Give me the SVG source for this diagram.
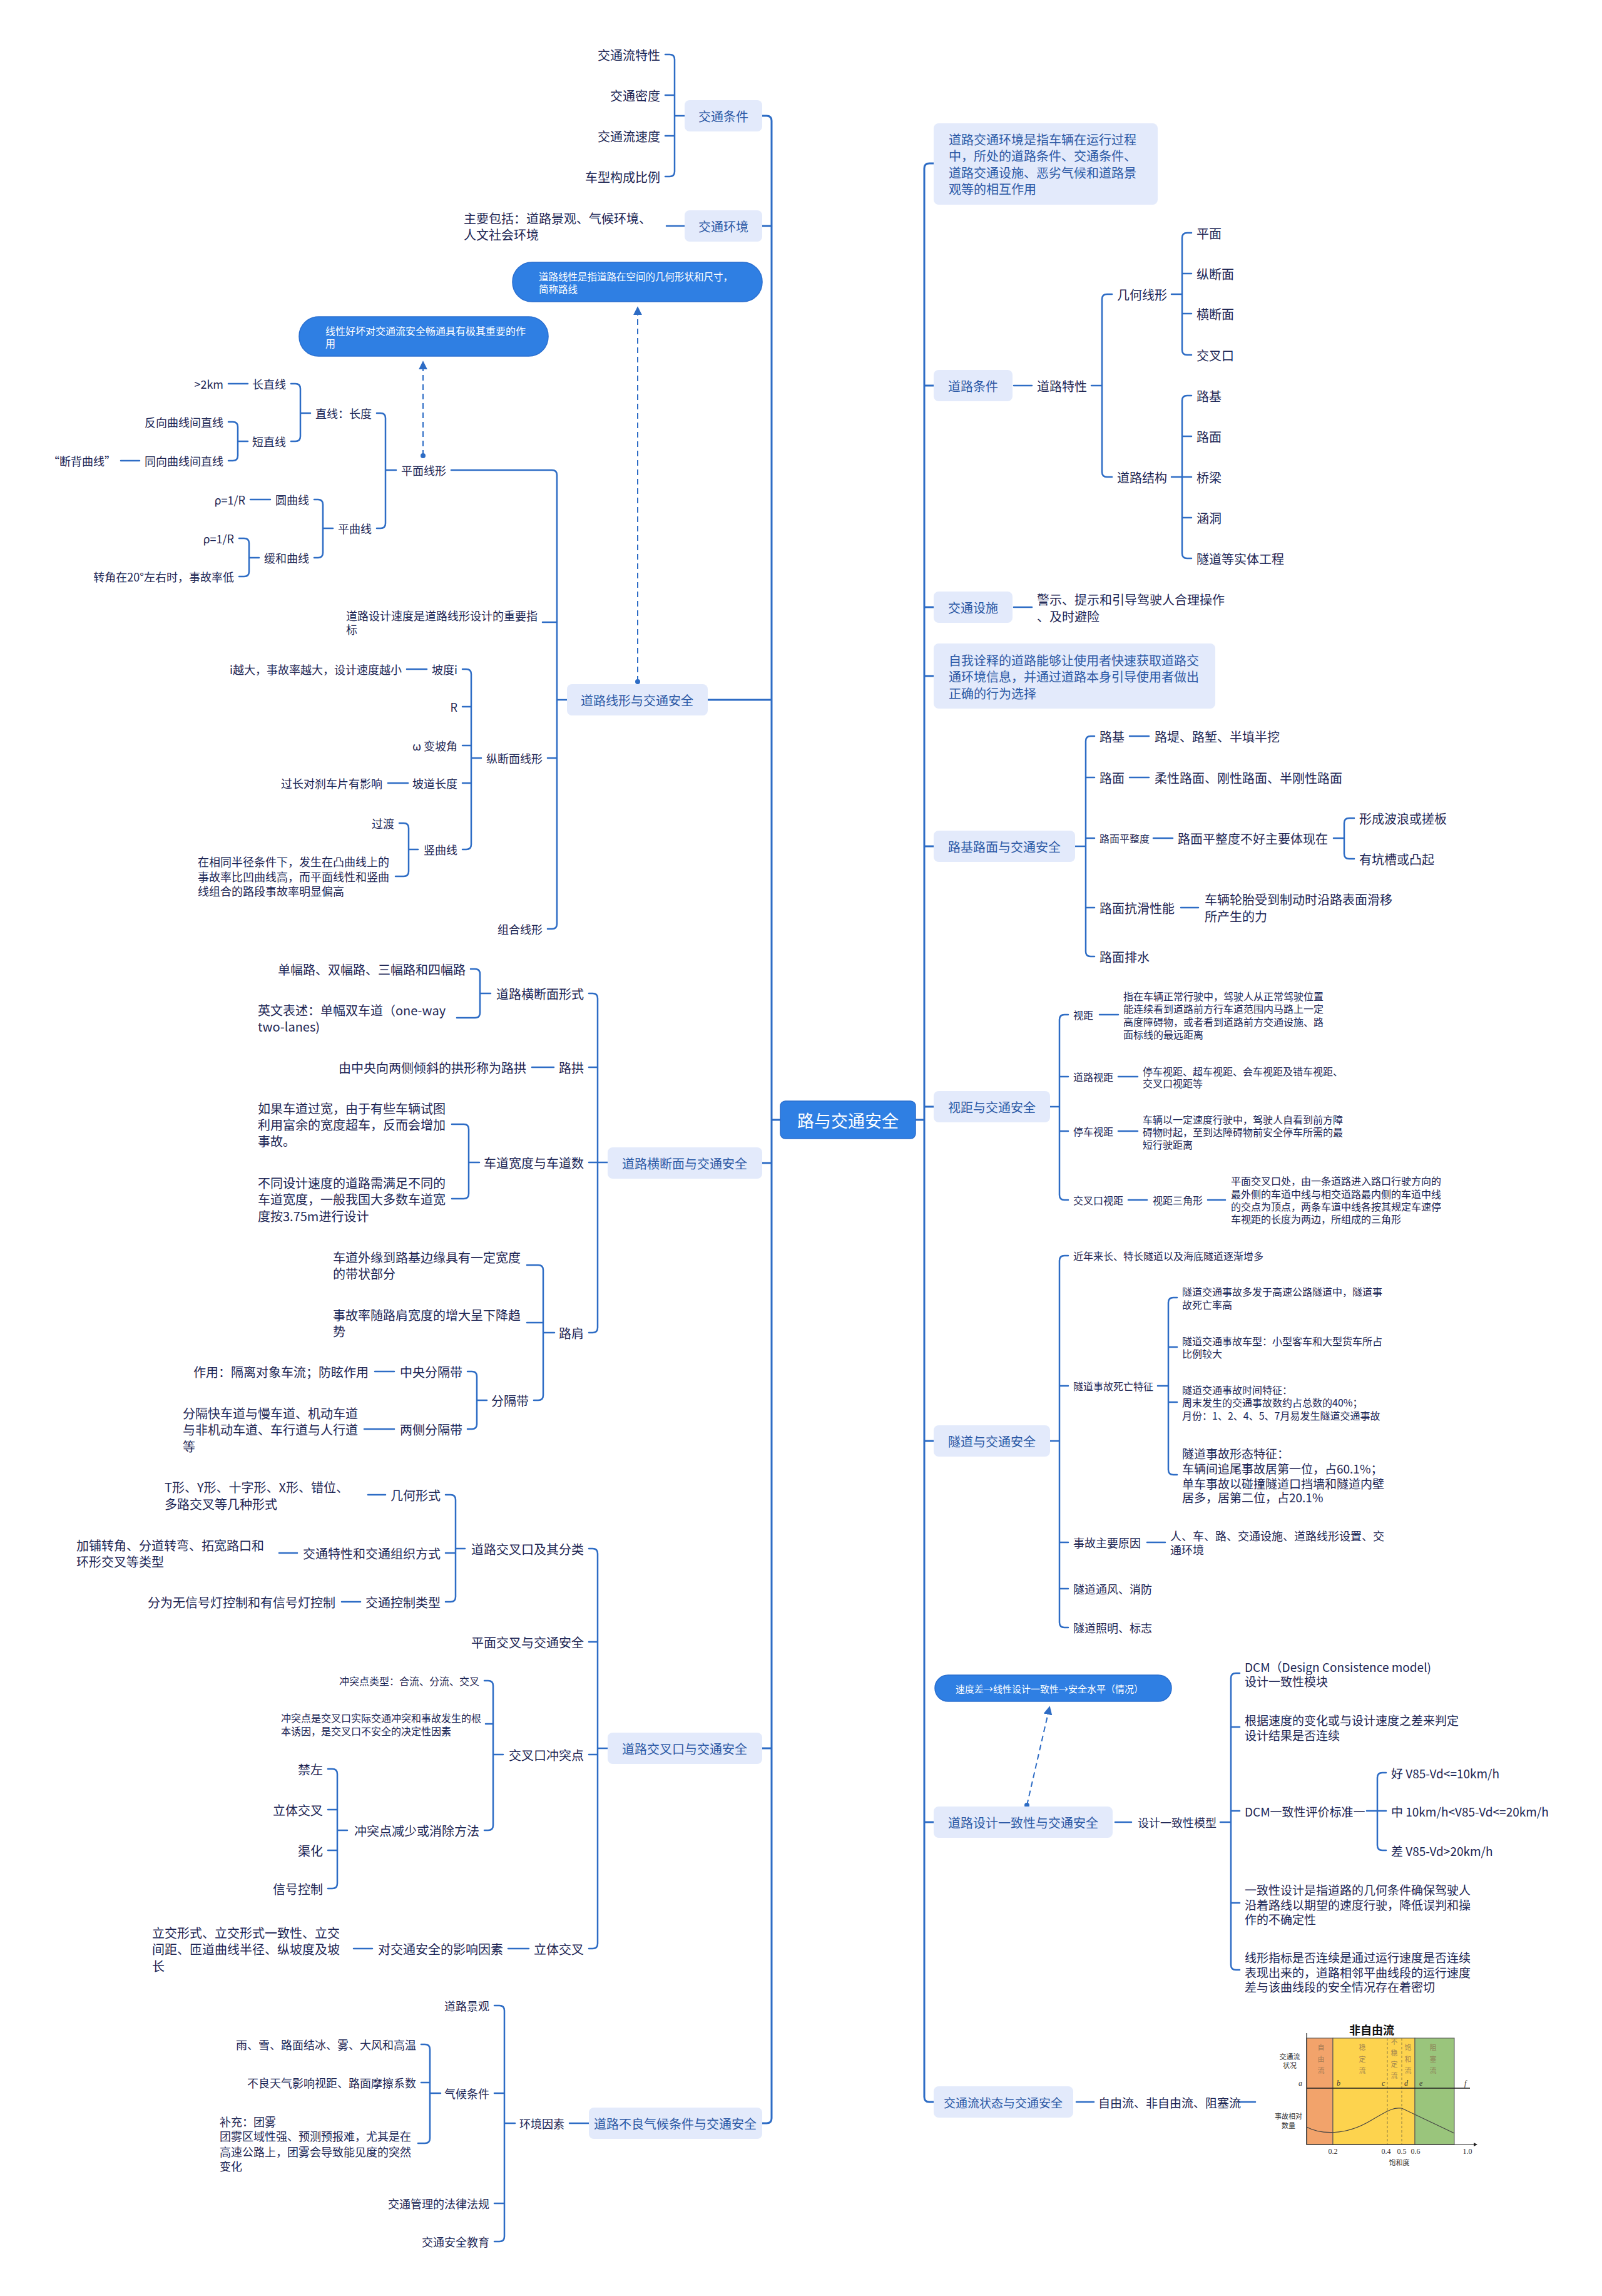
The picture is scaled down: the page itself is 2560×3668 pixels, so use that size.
<svg xmlns="http://www.w3.org/2000/svg" width="2560" height="3668" viewBox="0 0 2560 3668">
<defs>
<style>
text{font-family:"Noto Sans CJK SC","Noto Sans",sans-serif;dominant-baseline:central;fill:#1d2654}
.s20{font-size:20px}.s19{font-size:19px}.s18{font-size:18px}.s16{font-size:16px}
.e{text-anchor:end}.m{text-anchor:middle}
.bx{fill:#e3eafb}
.bt{fill:#2c59a5;font-size:20px;text-anchor:middle}
.btl{fill:#2c59a5;font-size:20px}
.c{fill:none;stroke:#2d6cc5;stroke-width:2.5;stroke-linecap:round}
.tr{stroke-width:3}
.pill{fill:#2f7fe3;stroke:#2a6fd0;stroke-width:1.5}
.pt{fill:#fff;font-size:15.5px}
.dash{fill:none;stroke:#2d6cc5;stroke-width:2;stroke-dasharray:9 6}
.ct{font-size:11px;fill:#333}
.cv{font-size:11px;fill:#8b6f4e;opacity:.75;text-anchor:middle}
.ci{font-family:"Liberation Serif",serif;font-style:italic;font-size:12px;fill:#333}
.cn{font-family:"Liberation Serif",serif;font-size:12px;fill:#333;text-anchor:middle}
</style>
<marker id="ar" viewBox="0 0 10 10" refX="8" refY="5" markerWidth="7" markerHeight="7" orient="auto">
<path d="M0 0L10 5L0 10z" fill="#2d6cc5"/>
</marker>
</defs>
<rect width="2560" height="3668" fill="#fff"/>

<g id="connectors">
<path class="c tr" d="M1218 185H1225Q1233 185 1233 193V3384Q1233 3392 1225 3392H1218M1233 361H1218M1233 1118H1131M1233 1858H1218M1233 2793H1218M1233 1789H1247"/>
<path class="c tr" d="M1492 261H1485Q1477 261 1477 269V3350Q1477 3358 1485 3358H1492M1477 616H1492M1477 970H1492M1477 1080H1492M1477 1352H1492M1477 1768H1492M1477 2302H1492M1477 2911H1492M1463 1789H1477"/>
<path class="c" d="M1063 87H1070Q1078 87 1078 95V274Q1078 282 1070 282H1063M1078 152H1063M1078 217H1063M1078 185H1094"/>
<path class="c" d="M1065 361H1094"/>
<path class="c" d="M721 751H882Q890 751 890 759V1476Q890 1484 882 1484H875M890 994H867M890 1211H875M890 1118H906"/>
<path class="c" d="M602 660H608Q616 660 616 668V836Q616 844 608 844H602M616 751H633"/>
<path class="c" d="M465 613H472Q480 613 480 621V697Q480 705 472 705H465M480 660H496"/>
<path class="c" d="M365 613H396"/>
<path class="c" d="M365 674H372Q380 674 380 682V728Q380 736 372 736H365M380 705H396"/>
<path class="c" d="M193 736H223"/>
<path class="c" d="M502 798H508Q516 798 516 806V883Q516 891 508 891H502M516 844H532"/>
<path class="c" d="M400 798H432"/>
<path class="c" d="M382 860H390Q398 860 398 868V913Q398 921 390 921H382M398 891H414"/>
<path class="c" d="M739 1069H745Q753 1069 753 1077V1349Q753 1357 745 1357H739M753 1129H739M753 1191H739M753 1251H739M753 1211H769"/>
<path class="c" d="M650 1069H682M620 1251H652"/>
<path class="c" d="M638 1315H645Q653 1315 653 1323V1392Q653 1400 645 1400H632M653 1357H668"/>
<path class="c" d="M941 1587H947Q955 1587 955 1595V2121Q955 2129 947 2129H941M955 1705H941M941 1857H971"/>
<path class="c" d="M752 1548H759Q767 1548 767 1556V1618Q767 1626 759 1626H730M767 1587H784"/>
<path class="c" d="M850 1705H885"/>
<path class="c" d="M722 1796H741Q749 1796 749 1804V1907Q749 1915 741 1915H722M749 1857H766"/>
<path class="c" d="M842 2021H860Q868 2021 868 2029V2229Q868 2237 860 2237H853M868 2113H842M868 2129H886"/>
<path class="c" d="M747 2191H754Q762 2191 762 2199V2275Q762 2283 754 2283H747M762 2237H778"/>
<path class="c" d="M599 2191H630M582 2283H630"/>
<path class="c" d="M941 2474H947Q955 2474 955 2482V3105Q955 3113 947 3113H941M955 2623H941M955 2803H941M955 2793H971"/>
<path class="c" d="M712 2388H720Q728 2388 728 2396V2551Q728 2559 720 2559H712M728 2481H712M728 2474H743"/>
<path class="c" d="M588 2388H616M446 2481H475M546 2559H576"/>
<path class="c" d="M774 2685H780Q788 2685 788 2693V2916Q788 2924 780 2924H774M788 2754H776M788 2803H804"/>
<path class="c" d="M524 2826H531Q539 2826 539 2834V3009Q539 3017 531 3017H524M539 2891H524M539 2956H524M539 2924H555"/>
<path class="c" d="M812 3113H845M565 3113H595"/>
<path class="c" d="M910 3392H941"/>
<path class="c" d="M790 3204H798Q806 3204 806 3212V3573Q806 3581 798 3581H790M806 3344H790M806 3520H790M806 3392H823"/>
<path class="c" d="M673 3266H679Q687 3266 687 3274V3416Q687 3424 679 3424H668M687 3327H673M687 3344H704"/>
<path class="c" d="M1620 616H1649M1620 970H1649"/>
<path class="c" d="M1777 470H1769Q1761 470 1761 478V754Q1761 762 1769 762H1777M1744 616H1761"/>
<path class="c" d="M1904 372H1897Q1889 372 1889 380V559Q1889 567 1897 567H1904M1889 437H1904M1889 501H1904M1872 470H1889"/>
<path class="c" d="M1904 632H1897Q1889 632 1889 640V884Q1889 892 1897 892H1904M1889 697H1904M1872 762H1904M1889 827H1904"/>
<path class="c" d="M1749 1176H1743Q1735 1176 1735 1184V1520Q1735 1528 1743 1528H1749M1735 1242H1749M1735 1339H1749M1735 1450H1749M1718 1352H1735"/>
<path class="c" d="M1805 1176H1836M1805 1242H1836M1843 1339H1874M1887 1450H1915"/>
<path class="c" d="M2164 1307H2156Q2148 1307 2148 1315V1364Q2148 1372 2156 1372H2164M2131 1339H2148"/>
<path class="c" d="M1707 1621H1701Q1693 1621 1693 1629V1909Q1693 1917 1701 1917H1707M1693 1720H1707M1693 1807H1707M1678 1768H1693"/>
<path class="c" d="M1757 1621H1787M1787 1720H1818M1787 1807H1818M1803 1917H1833M1930 1917H1958"/>
<path class="c" d="M1707 2006H1701Q1693 2006 1693 2014V2592Q1693 2600 1701 2600H1707M1693 2214H1707M1693 2464H1707M1693 2538H1707M1678 2302H1693"/>
<path class="c" d="M1881 2073H1875Q1867 2073 1867 2081V2348Q1867 2356 1875 2356H1881M1867 2152H1881M1867 2240H1881M1850 2214H1867"/>
<path class="c" d="M1833 2464H1862"/>
<path class="c" d="M1782 2911H1808"/>
<path class="c" d="M1981 2673H1975Q1967 2673 1967 2681V3139Q1967 3147 1975 3147H1981M1967 2759H1981M1967 2893H1981M1967 3040H1981M1950 2911H1967"/>
<path class="c" d="M2215 2832H2209Q2201 2832 2201 2840V2948Q2201 2956 2209 2956H2215M2184 2893H2215"/>
<path class="c" d="M1720 3358H1748M1978 3358H2006"/>
<path class="dash" d="M1019 1089V492" marker-end="url(#ar)"/>
<circle cx="1019" cy="1089" r="4" fill="#2d6cc5"/>
<path class="dash" d="M676 728V579" marker-end="url(#ar)"/>
<circle cx="676" cy="728" r="4" fill="#2d6cc5"/>
<path class="dash" d="M1641 2884L1677 2728" marker-end="url(#ar)"/>
<circle cx="1641" cy="2884" r="4" fill="#2d6cc5"/>
</g>

<g id="center">
<rect x="1247" y="1759" width="216" height="60" rx="8" fill="#2f7fe3" stroke="#2a6fd0" stroke-width="1.5"/>
<text x="1355" y="1789" class="m" style="font-size:27px;fill:#fff">路与交通安全</text>
</g>

<g id="n-jtcj">
<rect class="bx" x="1094" y="160" width="124" height="50" rx="8"/>
<text class="bt" x="1156" y="185">交通条件</text>
<text class="s20 e" x="1055" y="87">交通流特性</text>
<text class="s20 e" x="1055" y="152">交通密度</text>
<text class="s20 e" x="1055" y="217">交通流速度</text>
<text class="s20 e" x="1055" y="282">车型构成比例</text>
</g>

<g id="n-jthj">
<rect class="bx" x="1094" y="336" width="124" height="50" rx="8"/>
<text class="bt" x="1156" y="361">交通环境</text>
<text class="s20"><tspan x="741" y="348">主要包括：道路景观、气候环境、</tspan><tspan x="741" y="374">人文社会环境</tspan></text>
</g>

<g id="pill1">
<rect class="pill" x="819" y="419" width="399" height="63" rx="31"/>
<text class="pt"><tspan x="861" y="441">道路线性是指道路在空间的几何形状和尺寸，</tspan><tspan x="861" y="461">简称路线</tspan></text>
</g>
<g id="pill2">
<rect class="pill" x="478" y="506" width="398" height="63" rx="31"/>
<text class="pt" style="font-size:16px"><tspan x="520" y="528">线性好坏对交通流安全畅通具有极其重要的作</tspan><tspan x="520" y="548">用</tspan></text>
</g>

<g id="n-dlxx">
<rect class="bx" x="906" y="1093" width="225" height="50" rx="8"/>
<text class="bt" x="1018" y="1118">道路线形与交通安全</text>
<text class="s18 e" x="713" y="751">平面线形</text>
<text class="s18 e" x="594" y="660">直线：长度</text>
<text class="s18 e" x="457" y="613">长直线</text>
<text class="s18 e" x="357" y="613">&gt;2km</text>
<text class="s18 e" x="457" y="705">短直线</text>
<text class="s18 e" x="357" y="674">反向曲线间直线</text>
<text class="s18 e" x="357" y="736">同向曲线间直线</text>
<text class="s18 e" x="185" y="736">“断背曲线”</text>
<text class="s18 e" x="594" y="844">平曲线</text>
<text class="s18 e" x="494" y="798">圆曲线</text>
<text class="s18 e" x="392" y="798">ρ=1/R</text>
<text class="s18 e" x="494" y="891">缓和曲线</text>
<text class="s18 e" x="374" y="860">ρ=1/R</text>
<text class="s18 e" x="374" y="921">转角在20°左右时，事故率低</text>
<text class="s18"><tspan x="553" y="983">道路设计速度是道路线形设计的重要指</tspan><tspan x="553" y="1005">标</tspan></text>
<text class="s18 e" x="867" y="1211">纵断面线形</text>
<text class="s18 e" x="731" y="1069">坡度i</text>
<text class="s18 e" x="642" y="1069">i越大，事故率越大，设计速度越小</text>
<text class="s18 e" x="731" y="1129">R</text>
<text class="s18 e" x="731" y="1191">ω 变坡角</text>
<text class="s18 e" x="731" y="1251">坡道长度</text>
<text class="s18 e" x="611" y="1251">过长对刹车片有影响</text>
<text class="s18 e" x="731" y="1357">竖曲线</text>
<text class="s18 e" x="630" y="1315">过渡</text>
<text class="s18"><tspan x="316" y="1376">在相同半径条件下，发生在凸曲线上的</tspan><tspan x="316" y="1400">事故率比凹曲线高，而平面线性和竖曲</tspan><tspan x="316" y="1423">线组合的路段事故率明显偏高</tspan></text>
<text class="s18 e" x="867" y="1484">组合线形</text>
</g>

<g id="n-hdm">
<rect class="bx" x="971" y="1833" width="247" height="50" rx="8"/>
<text class="bt" x="1094" y="1858">道路横断面与交通安全</text>
<text class="s20 e" x="933" y="1587">道路横断面形式</text>
<text class="s20 e" x="744" y="1548">单幅路、双幅路、三幅路和四幅路</text>
<text class="s20"><tspan x="412" y="1613">英文表述：单幅双车道（one-way</tspan><tspan x="412" y="1639">two-lanes)</tspan></text>
<text class="s20 e" x="933" y="1705">路拱</text>
<text class="s20 e" x="841" y="1705">由中央向两侧倾斜的拱形称为路拱</text>
<text class="s20 e" x="933" y="1857">车道宽度与车道数</text>
<text class="s20"><tspan x="412" y="1770">如果车道过宽，由于有些车辆试图</tspan><tspan x="412" y="1796">利用富余的宽度超车，反而会增加</tspan><tspan x="412" y="1822">事故。</tspan></text>
<text class="s20"><tspan x="412" y="1889">不同设计速度的道路需满足不同的</tspan><tspan x="412" y="1915">车道宽度，一般我国大多数车道宽</tspan><tspan x="412" y="1942">度按3.75m进行设计</tspan></text>
<text class="s20 e" x="933" y="2129">路肩</text>
<text class="s20"><tspan x="532" y="2008">车道外缘到路基边缘具有一定宽度</tspan><tspan x="532" y="2034">的带状部分</tspan></text>
<text class="s20"><tspan x="532" y="2100">事故率随路肩宽度的增大呈下降趋</tspan><tspan x="532" y="2126">势</tspan></text>
<text class="s20 e" x="845" y="2237">分隔带</text>
<text class="s20 e" x="739" y="2191">中央分隔带</text>
<text class="s20 e" x="589" y="2191">作用：隔离对象车流；防眩作用</text>
<text class="s20 e" x="739" y="2283">两侧分隔带</text>
<text class="s20"><tspan x="292" y="2257">分隔快车道与慢车道、机动车道</tspan><tspan x="292" y="2283">与非机动车道、车行道与人行道</tspan><tspan x="292" y="2310">等</tspan></text>
</g>

<g id="n-jck">
<rect class="bx" x="971" y="2768" width="247" height="50" rx="8"/>
<text class="bt" x="1094" y="2793">道路交叉口与交通安全</text>
<text class="s20 e" x="933" y="2474">道路交叉口及其分类</text>
<text class="s20 e" x="704" y="2388">几何形式</text>
<text class="s20"><tspan x="263" y="2375">T形、Y形、十字形、X形、错位、</tspan><tspan x="263" y="2402">多路交叉等几种形式</tspan></text>
<text class="s20 e" x="704" y="2481">交通特性和交通组织方式</text>
<text class="s20"><tspan x="122" y="2468">加铺转角、分道转弯、拓宽路口和</tspan><tspan x="122" y="2494">环形交叉等类型</tspan></text>
<text class="s20 e" x="704" y="2559">交通控制类型</text>
<text class="s20 e" x="536" y="2559">分为无信号灯控制和有信号灯控制</text>
<text class="s20 e" x="933" y="2623">平面交叉与交通安全</text>
<text class="s20 e" x="933" y="2803">交叉口冲突点</text>
<text class="s16 e" x="766" y="2685">冲突点类型：合流、分流、交叉</text>
<text class="s16"><tspan x="449" y="2744">冲突点是交叉口实际交通冲突和事故发生的根</tspan><tspan x="449" y="2765">本诱因，是交叉口不安全的决定性因素</tspan></text>
<text class="s20 e" x="766" y="2924">冲突点减少或消除方法</text>
<text class="s20 e" x="516" y="2826">禁左</text>
<text class="s20 e" x="516" y="2891">立体交叉</text>
<text class="s20 e" x="516" y="2956">渠化</text>
<text class="s20 e" x="516" y="3017">信号控制</text>
<text class="s20 e" x="933" y="3113">立体交叉</text>
<text class="s20 e" x="804" y="3113">对交通安全的影响因素</text>
<text class="s20"><tspan x="243" y="3087">立交形式、立交形式一致性、立交</tspan><tspan x="243" y="3113">间距、匝道曲线半径、纵坡度及坡</tspan><tspan x="243" y="3140">长</tspan></text>
</g>

<g id="n-qh">
<rect class="bx" x="941" y="3367" width="277" height="50" rx="8"/>
<text class="bt" x="1079" y="3392">道路不良气候条件与交通安全</text>
<text class="s18 e" x="902" y="3392">环境因素</text>
<text class="s18 e" x="782" y="3204">道路景观</text>
<text class="s18 e" x="782" y="3344">气候条件</text>
<text class="s18 e" x="665" y="3266">雨、雪、路面结冰、雾、大风和高温</text>
<text class="s18 e" x="665" y="3327">不良天气影响视距、路面摩擦系数</text>
<text class="s18"><tspan x="351" y="3389">补充：团雾</tspan><tspan x="351" y="3412">团雾区域性强、预测预报难，尤其是在</tspan><tspan x="351" y="3437">高速公路上，团雾会导致能见度的突然</tspan><tspan x="351" y="3460">变化</tspan></text>
<text class="s18 e" x="782" y="3520">交通管理的法律法规</text>
<text class="s18 e" x="782" y="3581">交通安全教育</text>
</g>

<g id="n-note1">
<rect class="bx" x="1492" y="197" width="358" height="130" rx="8"/>
<text class="btl"><tspan x="1516" y="222">道路交通环境是指车辆在运行过程</tspan><tspan x="1516" y="248">中，所处的道路条件、交通条件、</tspan><tspan x="1516" y="275">道路交通设施、恶劣气候和道路景</tspan><tspan x="1516" y="301">观等的相互作用</tspan></text>
</g>

<g id="n-dltj">
<rect class="bx" x="1492" y="591" width="126" height="50" rx="8"/>
<text class="bt" x="1555" y="616">道路条件</text>
<text class="s20" x="1657" y="616">道路特性</text>
<text class="s20" x="1785" y="470">几何线形</text>
<text class="s20" x="1912" y="372">平面</text>
<text class="s20" x="1912" y="437">纵断面</text>
<text class="s20" x="1912" y="501">横断面</text>
<text class="s20" x="1912" y="567">交叉口</text>
<text class="s20" x="1785" y="762">道路结构</text>
<text class="s20" x="1912" y="632">路基</text>
<text class="s20" x="1912" y="697">路面</text>
<text class="s20" x="1912" y="762">桥梁</text>
<text class="s20" x="1912" y="827">涵洞</text>
<text class="s20" x="1912" y="892">隧道等实体工程</text>
</g>

<g id="n-jtss">
<rect class="bx" x="1492" y="945" width="126" height="50" rx="8"/>
<text class="bt" x="1555" y="970">交通设施</text>
<text class="s20"><tspan x="1657" y="957">警示、提示和引导驾驶人合理操作</tspan><tspan x="1657" y="984">、及时避险</tspan></text>
</g>

<g id="n-note2">
<rect class="bx" x="1492" y="1028" width="450" height="104" rx="8"/>
<text class="btl"><tspan x="1516" y="1054">自我诠释的道路能够让使用者快速获取道路交</tspan><tspan x="1516" y="1080">通环境信息，并通过道路本身引导使用者做出</tspan><tspan x="1516" y="1107">正确的行为选择</tspan></text>
</g>

<g id="n-ljlm">
<rect class="bx" x="1492" y="1327" width="226" height="50" rx="8"/>
<text class="bt" x="1605" y="1352">路基路面与交通安全</text>
<text class="s20" x="1757" y="1176">路基</text>
<text class="s20" x="1845" y="1176">路堤、路堑、半填半挖</text>
<text class="s20" x="1757" y="1242">路面</text>
<text class="s20" x="1845" y="1242">柔性路面、刚性路面、半刚性路面</text>
<text class="s16" x="1757" y="1339">路面平整度</text>
<text class="s20" x="1882" y="1339">路面平整度不好主要体现在</text>
<text class="s20" x="2172" y="1307">形成波浪或搓板</text>
<text class="s20" x="2172" y="1372">有坑槽或凸起</text>
<text class="s20" x="1757" y="1450">路面抗滑性能</text>
<text class="s20"><tspan x="1925" y="1436">车辆轮胎受到制动时沿路表面滑移</tspan><tspan x="1925" y="1463">所产生的力</tspan></text>
<text class="s20" x="1757" y="1528">路面排水</text>
</g>

<g id="n-sj">
<rect class="bx" x="1492" y="1743" width="186" height="50" rx="8"/>
<text class="bt" x="1585" y="1768">视距与交通安全</text>
<text class="s16" x="1715" y="1621">视距</text>
<text class="s16"><tspan x="1795" y="1591">指在车辆正常行驶中，驾驶人从正常驾驶位置</tspan><tspan x="1795" y="1611">能连续看到道路前方行车道范围内马路上一定</tspan><tspan x="1795" y="1632">高度障碍物，或者看到道路前方交通设施、路</tspan><tspan x="1795" y="1652">面标线的最远距离</tspan></text>
<text class="s16" x="1715" y="1720">道路视距</text>
<text class="s16"><tspan x="1826" y="1711">停车视距、超车视距、会车视距及错车视距、</tspan><tspan x="1826" y="1730">交叉口视距等</tspan></text>
<text class="s16" x="1715" y="1807">停车视距</text>
<text class="s16"><tspan x="1826" y="1788">车辆以一定速度行驶中，驾驶人自看到前方障</tspan><tspan x="1826" y="1808">碍物时起，至到达障碍物前安全停车所需的最</tspan><tspan x="1826" y="1828">短行驶距离</tspan></text>
<text class="s16" x="1715" y="1917">交叉口视距</text>
<text class="s16" x="1842" y="1917">视距三角形</text>
<text class="s16"><tspan x="1967" y="1886">平面交叉口处，由一条道路进入路口行驶方向的</tspan><tspan x="1967" y="1907">最外侧的车道中线与相交道路最内侧的车道中线</tspan><tspan x="1967" y="1927">的交点为顶点，两条车道中线各按其规定车速停</tspan><tspan x="1967" y="1947">车视距的长度为两边，所组成的三角形</tspan></text>
</g>

<g id="n-sd">
<rect class="bx" x="1492" y="2277" width="186" height="50" rx="8"/>
<text class="bt" x="1585" y="2302">隧道与交通安全</text>
<text class="s16" x="1715" y="2006">近年来长、特长隧道以及海底隧道逐渐增多</text>
<text class="s16" x="1715" y="2214">隧道事故死亡特征</text>
<text class="s16"><tspan x="1889" y="2063">隧道交通事故多发于高速公路隧道中，隧道事</tspan><tspan x="1889" y="2084">故死亡率高</tspan></text>
<text class="s16"><tspan x="1889" y="2142">隧道交通事故车型：小型客车和大型货车所占</tspan><tspan x="1889" y="2162">比例较大</tspan></text>
<text class="s16"><tspan x="1889" y="2220">隧道交通事故时间特征：</tspan><tspan x="1889" y="2240">周末发生的交通事故数约占总数的40%；</tspan><tspan x="1889" y="2261">月份：1、2、4、5、7月易发生隧道交通事故</tspan></text>
<text class="s19"><tspan x="1889" y="2321">隧道事故形态特征：</tspan><tspan x="1889" y="2345">车辆间追尾事故居第一位，占60.1%；</tspan><tspan x="1889" y="2369">单车事故以碰撞隧道口挡墙和隧道内壁</tspan><tspan x="1889" y="2391">居多，居第二位，占20.1%</tspan></text>
<text class="s18" x="1715" y="2464">事故主要原因</text>
<text class="s18"><tspan x="1870" y="2453">人、车、路、交通设施、道路线形设置、交</tspan><tspan x="1870" y="2475">通环境</tspan></text>
<text class="s18" x="1715" y="2538">隧道通风、消防</text>
<text class="s18" x="1715" y="2600">隧道照明、标志</text>
</g>

<g id="pill3">
<rect class="pill" x="1494" y="2676" width="378" height="42" rx="21"/>
<text class="pt" style="font-size:15px" x="1527" y="2697">速度差→线性设计一致性→安全水平（情况）</text>
</g>

<g id="n-yzx">
<rect class="bx" x="1492" y="2886" width="286" height="50" rx="8"/>
<text class="bt" x="1635" y="2911">道路设计一致性与交通安全</text>
<text class="s18" x="1818" y="2911">设计一致性模型</text>
<text class="s19"><tspan x="1989" y="2662">DCM（Design Consistence model)</tspan><tspan x="1989" y="2685">设计一致性模块</tspan></text>
<text class="s19"><tspan x="1989" y="2747">根据速度的变化或与设计速度之差来判定</tspan><tspan x="1989" y="2771">设计结果是否连续</tspan></text>
<text class="s19" x="1989" y="2893">DCM一致性评价标准一</text>
<text class="s19" x="2223" y="2832">好 V85-Vd&lt;=10km/h</text>
<text class="s19" x="2223" y="2893">中 10km/h&lt;V85-Vd&lt;=20km/h</text>
<text class="s19" x="2223" y="2956">差 V85-Vd&gt;20km/h</text>
<text class="s19"><tspan x="1989" y="3018">一致性设计是指道路的几何条件确保驾驶人</tspan><tspan x="1989" y="3042">沿着路线以期望的速度行驶，降低误判和操</tspan><tspan x="1989" y="3065">作的不确定性</tspan></text>
<text class="s19"><tspan x="1989" y="3126">线形指标是否连续是通过运行速度是否连续</tspan><tspan x="1989" y="3150">表现出来的，道路相邻平曲线段的运行速度</tspan><tspan x="1989" y="3173">差与该曲线段的安全情况存在着密切</tspan></text>
</g>

<g id="n-jtl">
<rect class="bx" x="1492" y="3333" width="223" height="50" rx="8"/>
<text class="bt" style="font-size:19px" x="1603" y="3358">交通流状态与交通安全</text>
<text class="s19" x="1755" y="3358">自由流、非自由流、阻塞流</text>
</g>

<g id="chart">
<text x="2192" y="3242" class="m" style="font-size:18px;font-weight:bold;fill:#111">非自由流</text>
<rect x="2088" y="3256" width="42" height="170" fill="#f2a36b" stroke="#555" stroke-width="1"/>
<rect x="2130" y="3256" width="131" height="170" fill="#fdd34e" stroke="#555" stroke-width="1"/>
<rect x="2261" y="3256" width="63" height="170" fill="#9ac57c" stroke="#555" stroke-width="1"/>
<path d="M2217 3256V3426M2240 3256V3426" stroke="#8a7a40" stroke-width="1" stroke-dasharray="4 3" fill="none"/>
<path d="M2088 3248V3426H2355" stroke="#222" stroke-width="1.2" fill="none"/>
<path d="M2355 3423L2361 3426L2355 3429z" fill="#222"/>
<path d="M2088 3336H2349" stroke="#222" stroke-width="1.5" fill="none"/>
<path d="M2088 3398C2110 3410 2150 3412 2190 3388S2230 3368 2240 3368L2324 3408" stroke="#444" stroke-width="1.2" fill="none"/>
<text class="ci" x="2075" y="3328">a</text>
<text class="ci" x="2136" y="3328">b</text>
<text class="ci" x="2208" y="3328">c</text>
<text class="ci" x="2244" y="3328">d</text>
<text class="ci" x="2268" y="3328">e</text>
<text class="ci" x="2340" y="3328">f</text>
<text class="cv" x="2111" y="3270">自</text><text class="cv" x="2111" y="3289">由</text><text class="cv" x="2111" y="3307">流</text>
<text class="cv" x="2177" y="3270">稳</text><text class="cv" x="2177" y="3289">定</text><text class="cv" x="2177" y="3307">流</text>
<text class="cv" x="2228" y="3261">不</text><text class="cv" x="2228" y="3279">稳</text><text class="cv" x="2228" y="3297">定</text><text class="cv" x="2228" y="3315">流</text>
<text class="cv" x="2250" y="3270">饱</text><text class="cv" x="2250" y="3289">和</text><text class="cv" x="2250" y="3307">流</text>
<text class="cv" x="2290" y="3270">阻</text><text class="cv" x="2290" y="3289">塞</text><text class="cv" x="2290" y="3307">流</text>
<text class="ct m" x="2061" y="3285">交通流</text>
<text class="ct m" x="2061" y="3299">状况</text>
<text class="ct m" x="2059" y="3380">事故相对</text>
<text class="ct m" x="2059" y="3395">数量</text>
<text class="cn" x="2130" y="3437">0.2</text>
<text class="cn" x="2215" y="3437">0.4</text>
<text class="cn" x="2240" y="3437">0.5</text>
<text class="cn" x="2262" y="3437">0.6</text>
<text class="cn" x="2345" y="3437">1.0</text>
<text class="ct m" x="2236" y="3454">饱和度</text>
</g>
</svg>
